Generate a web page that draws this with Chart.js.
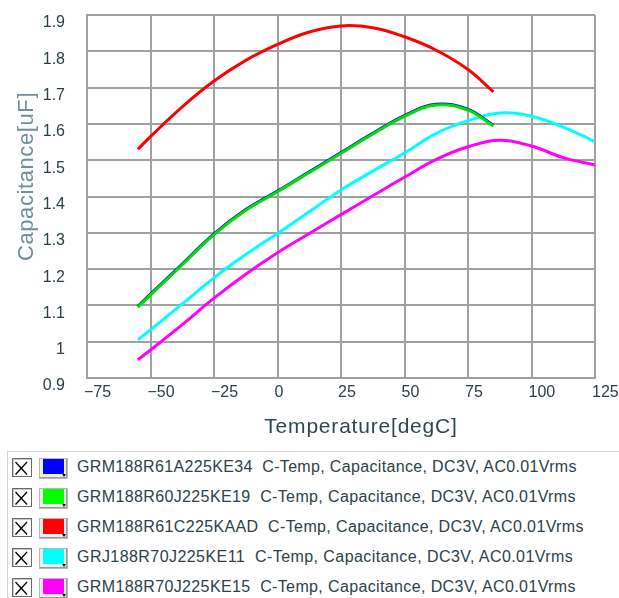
<!DOCTYPE html>
<html><head><meta charset="utf-8">
<script src="https://cdn.jsdelivr.net/npm/chart.js@4.4.1/dist/chart.umd.min.js"></script>
<style>
html,body{margin:0;padding:0;background:#fff;width:619px;height:598px;overflow:hidden;}
#wrap{position:absolute;left:0;top:0;width:619px;height:445px;}
#legend{position:absolute;left:7px;top:451px;width:700px;height:200px;border:1px solid #d2d2d2;background:#fff;}
.row{position:absolute;left:0;height:22px;width:690px;}
.chk{position:absolute;left:4px;top:1px;width:18px;height:17px;border:1px solid #6a6a6a;background:#fff;box-shadow:inset 1px 1px 0 #c6c6c6;}
.chk svg{position:absolute;left:0;top:0;}
.sw{position:absolute;left:31px;top:1px;width:27px;height:19px;border:1px solid #b8b8b8;background:#ececec;box-shadow:inset -1px -1px 0 #9a9a9a;}
.sw .c{position:absolute;left:3px;top:0px;width:21px;height:15px;}
.sw .arr{position:absolute;left:22px;top:15px;width:0;height:0;border-left:2px solid transparent;border-right:2px solid transparent;border-top:3px solid #000;}
.txt{position:absolute;left:69px;top:0;line-height:20px;font-size:16px;font-family:'Liberation Sans',Arial,sans-serif;color:#2d4249;white-space:pre;}
</style>
</head><body>
<div id="wrap"><canvas id="c" width="619" height="445"></canvas></div>
<div id="legend"></div>
<script>
// ---------- data ----------
const seriesNames = ['GRM188R61A225KE34','GRM188R60J225KE19','GRM188R61C225KAAD','GRJ188R70J225KE11','GRM188R70J225KE15'];
const seriesNote = 'C-Temp, Capacitance, DC3V, AC0.01Vrms';

const blueTemps = [-55,-50,-37.5,-25,-12.5,0,12.5,25,37.5,50,62.5,75,85];
const blueCap   = [1.097,1.131,1.214,1.297,1.364,1.415,1.468,1.521,1.574,1.623,1.654,1.640,1.596];

const greenTemps = [-55,-50,-37.5,-25,-12.5,0,12.5,25,37.5,50,62.5,75,85];
const greenCap   = [1.095,1.129,1.212,1.295,1.362,1.413,1.466,1.519,1.572,1.621,1.652,1.638,1.594];

const redTemps = [-55,-50,-37.5,-25,-12.5,0,12.5,25,37.5,50,62.5,75,85];
const redCap   = [1.530,1.565,1.647,1.718,1.775,1.819,1.853,1.870,1.865,1.840,1.803,1.750,1.688];

const cyanTemps = [-55,-50,-37.5,-25,-12.5,0,12.5,25,37.5,50,62.5,75,87.5,100,112.5,125];
const cyanCap   = [1.005,1.033,1.104,1.176,1.240,1.298,1.358,1.418,1.470,1.520,1.574,1.609,1.630,1.621,1.591,1.551];

const magentaTemps = [-55,-50,-37.5,-25,-12.5,0,12.5,25,37.5,50,62.5,75,87.5,100,112.5,125];
const magentaCap   = [0.950,0.977,1.047,1.120,1.186,1.245,1.298,1.350,1.402,1.453,1.502,1.537,1.555,1.539,1.507,1.487];

const xTicks = [-75,-50,-25,0,25,50,75,100,125];
const xTickLabels = ['\u221275','\u221250','\u221225','0','25','50','75','100','125'];
const yTicks = [0.9,1.0,1.1,1.2,1.3,1.4,1.5,1.6,1.7,1.8,1.9];
const yTickLabels = ['0.9','1','1.1','1.2','1.3','1.4','1.5','1.6','1.7','1.8','1.9'];

const xTitle = 'Temperature[degC]';
const yTitle = 'Capacitance[uF]';

// ---------- styles ----------
const colors = ['#0000ff','#00e000','#ff0000','#00ffff','#ff00ff'];
const swatchColors = ['#0000ff','#00ff00','#ff0000','#00ffff','#ff00ff'];
const tickColor = '#2b4047';
const gridColor = '#a0a0a0';
const tickFont = "'Liberation Sans',Arial,sans-serif";

function pts(t, v){ return t.map((x,i)=>({x:x, y:v[i]})); }

const lineStyle = {borderWidth:3, pointRadius:0, fill:false, tension:0.4};
const datasets = [
  Object.assign({label:seriesNames[1], data:pts(greenTemps,greenCap), borderColor:colors[1], order:0}, lineStyle),
  Object.assign({label:seriesNames[0], data:pts(blueTemps,blueCap), borderColor:colors[0], order:1}, lineStyle),
  Object.assign({label:seriesNames[2], data:pts(redTemps,redCap), borderColor:colors[2], order:2}, lineStyle),
  Object.assign({label:seriesNames[3], data:pts(cyanTemps,cyanCap), borderColor:colors[3], order:3}, lineStyle),
  Object.assign({label:seriesNames[4], data:pts(magentaTemps,magentaCap), borderColor:colors[4], order:4}, lineStyle)
];

const titlesPlugin = {
  id:'axisTitles',
  afterDraw(chart){
    const ctx = chart.ctx, a = chart.chartArea;
    ctx.save();
    ctx.font = "21px 'Liberation Sans',Arial,sans-serif";
    ctx.fillStyle = '#30474e';
    ctx.textAlign = 'center';
    ctx.textBaseline = 'alphabetic';
    ctx.letterSpacing = '0.8px';
    ctx.fillText(xTitle, (a.left + a.right)/2 + 20, a.bottom + 55);
    ctx.translate(33, (a.top + a.bottom)/2 - 20);
    ctx.rotate(-Math.PI/2);
    ctx.font = "22px 'Liberation Sans',Arial,sans-serif";
    ctx.fillStyle = '#728f98';
    ctx.letterSpacing = '0.6px';
    ctx.fillText(yTitle, 0, 0);
    ctx.restore();
  }
};

new Chart(document.getElementById('c'), {
  type:'line',
  data:{datasets:datasets},
  plugins:[titlesPlugin],
  options:{
    responsive:false, animation:false, devicePixelRatio:1,
    layout:{padding:{top:15, right:24, left:0, bottom:0}},
    plugins:{legend:{display:false}, tooltip:{enabled:false}},
    scales:{
      x:{
        type:'linear', min:-75, max:125,
        afterBuildTicks(s){ s.ticks = xTicks.map(v=>({value:v})); },
        afterFit(s){ s.height = 67; s.paddingLeft = 0; s.paddingRight = 0; },
        grid:{color:gridColor, lineWidth:2, drawTicks:false},
        border:{color:gridColor, width:2},
        ticks:{align:'start', labelOffset:-3, padding:5, maxRotation:0, autoSkip:false, color:tickColor,
               font:{family:tickFont, size:16},
               callback:(v,i)=>xTickLabels[i]}
      },
      y:{
        type:'linear', min:0.9, max:1.9,
        afterBuildTicks(s){ s.ticks = yTicks.map(v=>({value:v})); },
        afterFit(s){ s.width = 87; s.paddingTop = 0; s.paddingBottom = 0; },
        grid:{color:gridColor, lineWidth:2, drawTicks:false},
        border:{color:gridColor, width:2},
        ticks:{padding:22, labelOffset:8, autoSkip:false, color:tickColor,
               font:{family:tickFont, size:16},
               callback:(v,i)=>yTickLabels[i]}
      }
    }
  }
});

// ---------- legend ----------
const legendTextWidths = [501,500,508,497,500];
const legend = document.getElementById('legend');
const mctx = document.createElement('canvas').getContext('2d');
mctx.font = "16px 'Liberation Sans',Arial,sans-serif";
seriesNames.forEach((name,i)=>{
  const row = document.createElement('div');
  row.className = 'row';
  row.style.top = (4.7 + i*30.15) + 'px';
  const text = name + '  ' + seriesNote;
  const w = mctx.measureText(text).width;
  const ls = (legendTextWidths[i] - w) / text.length;
  row.innerHTML =
    '<div class="chk"><svg width="18" height="17"><line x1="2.5" y1="3" x2="14" y2="15.5" stroke="#000" stroke-width="1.3"/><line x1="14" y1="3" x2="2.5" y2="15.5" stroke="#000" stroke-width="1.3"/></svg></div>' +
    '<div class="sw"><div class="c" style="background:' + swatchColors[i] + '"></div><div class="arr"></div></div>' +
    '<div class="txt" style="letter-spacing:' + ls.toFixed(2) + 'px"></div>';
  row.querySelector('.txt').textContent = text;
  legend.appendChild(row);
});
</script>
</body></html>
